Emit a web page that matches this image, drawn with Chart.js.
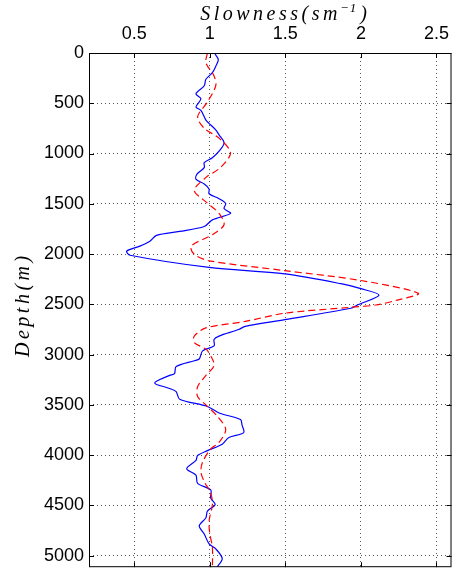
<!DOCTYPE html>
<html>
<head>
<meta charset="utf-8">
<script src="https://cdn.jsdelivr.net/npm/chart.js@4.4.0/dist/chart.umd.min.js"></script>
<style>
	body { margin: 0; background: #fff; }
	#chart-box { width: 457px; height: 583px; position: relative; }
</style>
</head>
<body>
<div id="chart-box"><canvas id="myChart"></canvas></div>
<script>
// Blue (solid) curve: depth in m, slowness
let depthBlue = [0, 65, 130, 195, 261, 326, 407, 456, 537, 570, 668, 700, 765, 814, 895, 977, 1042, 1091, 1140, 1205, 1254, 1303, 1352, 1400, 1449, 1498, 1547, 1596, 1660, 1726, 1775, 1814, 1872, 1921, 1970, 2012, 2133, 2198, 2295, 2344, 2409, 2507, 2539, 2653, 2719, 2751, 2816, 2849, 2914, 2963, 3044, 3061, 3119, 3190, 3207, 3282, 3337, 3369, 3444, 3516, 3581, 3646, 3700, 3776, 3825, 3891, 3955, 4004, 4053, 4135, 4199, 4281, 4346, 4428, 4492, 4558, 4623, 4704, 4785, 4883, 4932, 5029, 5111];
let slowBlue = [1.03, 1.056, 1.04, 1.017, 0.974, 0.963, 0.908, 0.941, 0.908, 0.941, 0.974, 0.995, 1.039, 1.061, 1.094, 1.061, 1.017, 0.963, 0.963, 0.915, 0.908, 0.963, 0.995, 0.995, 1.061, 1.105, 1.094, 1.137, 1.017, 0.963, 0.80, 0.647, 0.603, 0.537, 0.45, 0.472, 0.995, 1.497, 1.868, 2.0, 2.12, 1.977, 1.933, 1.497, 1.235, 1.19, 1.061, 1.028, 1.028, 0.952, 0.93, 0.897, 0.777, 0.766, 0.734, 0.635, 0.734, 0.777, 0.80, 0.984, 1.061, 1.203, 1.213, 1.224, 1.126, 1.082, 0.984, 0.919, 0.908, 0.847, 0.908, 0.919, 1.006, 1.006, 1.035, 0.984, 0.974, 0.93, 0.963, 0.995, 1.039, 1.082, 1.05];

// Red (dashed) curve
let depthRed = [0, 98, 228, 326, 488, 635, 749, 847, 993, 1140, 1237, 1367, 1481, 1596, 1709, 1807, 1921, 2002, 2067, 2165, 2263, 2390, 2458, 2507, 2530, 2588, 2670, 2735, 2816, 2881, 2946, 3012, 3109, 3207, 3320, 3418, 3500, 3614, 3744, 3874, 3939, 4069, 4167, 4264, 4379, 4492, 4655, 4785, 4916, 5111];
let slowRed = [0.984, 0.974, 1.028, 1.039, 0.984, 0.919, 0.963, 1.061, 1.137, 1.07, 0.975, 0.897, 0.974, 1.061, 1.094, 1.017, 0.876, 0.897, 0.995, 1.497, 2.0, 2.38, 2.24, 2.10, 1.93, 1.497, 1.235, 0.974, 0.897, 0.897, 0.974, 1.006, 1.028, 0.974, 0.919, 0.919, 0.974, 1.05, 1.105, 1.061, 1.006, 0.952, 0.941, 0.963, 1.006, 1.017, 0.995, 1.0, 1.017, 1.017];

// Tick labels
let xTicks = [0.5, 1, 1.5, 2, 2.5];
let yTicks = [0, 500, 1000, 1500, 2000, 2500, 3000, 3500, 4000, 4500, 5000];

function toPoints(depth, slow) {
	return depth.map((d, i) => ({ x: slow[i], y: d }));
}

// MATLAB style box with inward ticks
const frameTicks = {
	id: 'frameTicks',
	afterDatasetsDraw(chart) {
		let ctx = chart.ctx, a = chart.chartArea;
		let xs = chart.scales.x, ys = chart.scales.y;
		ctx.save();
		ctx.strokeStyle = '#000';
		ctx.lineWidth = 1;
		ctx.setLineDash([]);
		ctx.beginPath();
		xs.ticks.forEach(t => {
			let p = Math.round(xs.getPixelForValue(t.value)) + 0.5;
			ctx.moveTo(p, a.top); ctx.lineTo(p, a.top + 5);
			ctx.moveTo(p, a.bottom); ctx.lineTo(p, a.bottom - 5);
		});
		ys.ticks.forEach(t => {
			let p = Math.round(ys.getPixelForValue(t.value)) + 0.5;
			ctx.moveTo(a.left, p); ctx.lineTo(a.left + 5, p);
			ctx.moveTo(a.right, p); ctx.lineTo(a.right - 5, p);
		});
		ctx.stroke();
		ctx.strokeRect(a.left + 0.5, a.top + 0.5, a.right - a.left - 1, a.bottom - a.top - 1);
		ctx.restore();
	}
};

// axis titles drawn with spaced italic letters
const axisTitles = {
	id: 'axisTitles',
	afterDraw(chart) {
		let ctx = chart.ctx, a = chart.chartArea;
		ctx.save();
		ctx.fillStyle = '#000';
		ctx.textAlign = 'left';
		ctx.textBaseline = 'alphabetic';

		// x title: Slowness(sm^-1)
		let big = 'italic 20px "Liberation Serif"', small = 'italic 13px "Liberation Serif"';
		ctx.letterSpacing = '3.5px';
		ctx.font = big;
		let w1 = ctx.measureText('Slowness(sm').width;
		let w3 = ctx.measureText(')').width;
		ctx.font = small;
		ctx.letterSpacing = '1px';
		let w2 = ctx.measureText('\u22121').width;
		let cx = (a.left + a.right) / 2 + 14;
		let x0 = cx - (w1 + w2 + w3) / 2;
		ctx.font = big;
		ctx.letterSpacing = '3.5px';
		ctx.fillText('Slowness(sm', x0, 20);
		ctx.fillText(')', x0 + w1 + w2 + 2, 20);
		ctx.font = small;
		ctx.letterSpacing = '1px';
		ctx.fillText('\u22121', x0 + w1 - 1, 12);

		// y title: Depth(m)
		ctx.font = big;
		ctx.letterSpacing = '3.5px';
		ctx.translate(29, 357);
		ctx.rotate(-Math.PI / 2);
		ctx.fillText('Depth(m)', 0, 0);
		ctx.restore();
	}
};

let tickFont = { family: '"Liberation Sans", Arial, sans-serif', size: 18 };

new Chart(document.getElementById('myChart').getContext('2d'), {
	type: 'scatter',
	data: {
		datasets: [{
			label: 'red',
			data: toPoints(depthRed, slowRed),
			showLine: true,
			borderColor: '#ff0000',
			borderWidth: 1.2,
			borderDash: [7, 4],
			pointRadius: 0,
			tension: 0.3,
			fill: false
		}, {
			label: 'blue',
			data: toPoints(depthBlue, slowBlue),
			showLine: true,
			borderColor: '#0000ff',
			borderWidth: 1.2,
			pointRadius: 0,
			tension: 0.3,
			fill: false
		}]
	},
	options: {
		responsive: true,
		maintainAspectRatio: false,
		animation: false,
		layout: { padding: { left: 0, right: 2, top: 0, bottom: 6 } },
		plugins: {
			legend: { display: false },
			tooltip: { enabled: false }
		},
		scales: {
			x: {
				type: 'linear',
				position: 'top',
				min: 0.2,
				max: 2.6,
				afterBuildTicks: s => { s.ticks = xTicks.map(v => ({ value: v })); },
				afterFit: s => { s.height = 53; },
				title: { display: false, text: 'Slowness(sm\u207B\u00B9)' },
				ticks: { font: tickFont, color: '#000', padding: 8, maxRotation: 0, callback: v => String(v) },
				grid: { color: '#555', lineWidth: 1, drawTicks: false, borderDash: [1, 3] },
				border: { display: false, dash: [1, 3] }
			},
			y: {
				type: 'linear',
				reverse: true,
				min: 0,
				max: 5115,
				afterBuildTicks: s => { s.ticks = yTicks.map(v => ({ value: v })); },
				afterFit: s => { s.width = 89; },
				title: { display: false, text: 'Depth(m)' },
				ticks: { font: tickFont, color: '#000', padding: 5, callback: v => String(v) },
				grid: { color: '#555', lineWidth: 1, drawTicks: false, borderDash: [1, 3] },
				border: { display: false, dash: [1, 3] }
			}
		}
	},
	plugins: [frameTicks, axisTitles]
});
</script>
</body>
</html>
